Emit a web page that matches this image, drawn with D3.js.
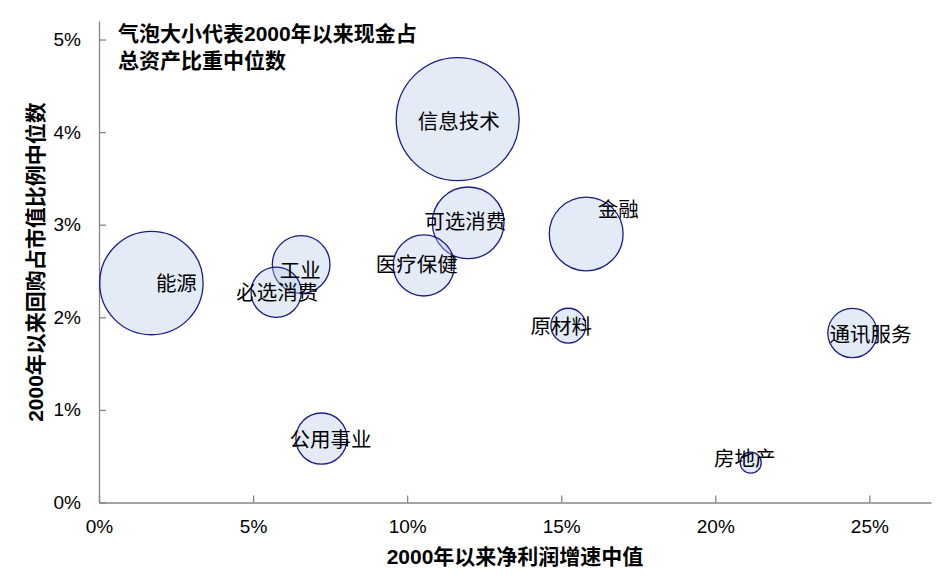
<html>
<head>
<meta charset="utf-8">
<style>
  body { margin: 0; background: #fff; }
  text { font-family: "Liberation Sans", "Noto Sans CJK SC", sans-serif; fill: #000; }
</style>
</head>
<body>
<script src="https://d3js.org/d3.v7.min.js"></script>
<script>
    // 行业
    var sectors = ['能源', '工业', '必选消费', '公用事业', '医疗保健', '可选消费', '信息技术', '金融', '原材料', '房地产', '通讯服务'];
    // 2000年以来净利润增速中值 (%)
    var growth = [1.70, 6.56, 5.75, 7.22, 10.54, 11.98, 11.64, 15.81, 15.23, 21.15, 24.45];
    // 2000年以来回购占市值比例中位数 (%)
    var buyback = [2.37, 2.57, 2.27, 0.69, 2.56, 3.02, 4.14, 2.90, 1.91, 0.43, 1.83];
    // 现金占总资产比重中位数 (%), 气泡大小
    var cashRatio = [10.6, 3.3, 2.5, 2.6, 3.7, 5.1, 15.0, 5.4, 1.2, 0.44, 2.4];
    var xTicks = [0, 5, 10, 15, 20, 25];
    var yTicks = [0, 1, 2, 3, 4, 5];

    // 标签相对气泡中心的偏移
    var labelOffset = [[25, 0], [-1, 6], [1, 0], [9, 1], [-7, -1], [-3, -1], [1, 2], [32, -24], [-7, 1], [-6, -4], [18, 1]];

    var data = sectors.map((s, i) => ({ name: s, x: growth[i], y: buyback[i], size: cashRatio[i], off: labelOffset[i] }));

    var width = 944, height = 585;
    var plotLeft = 99, plotRight = 931, plotTop = 21, plotBottom = 502.5;

    //比例尺
    var x = d3.scaleLinear().domain([0, 27]).range([plotLeft, plotRight]);
    var y = d3.scaleLinear().domain([0, 5.2]).range([plotBottom, plotTop]);
    var r = d3.scaleSqrt().domain([0, d3.max(cashRatio)]).range([0, 61.5]);

    var svg = d3.select('body').append('svg')
        .attr('width', width)
        .attr('height', height);

    //X轴
    var xAxis = svg.append('g')
        .attr('transform', `translate(0,${plotBottom})`)
        .call(d3.axisBottom(x).tickValues(xTicks).tickSizeInner(-7).tickSizeOuter(0).tickFormat(d => d + '%'));
    //Y轴
    var yAxis = svg.append('g')
        .attr('transform', `translate(${plotLeft},0)`)
        .call(d3.axisLeft(y).tickValues(yTicks).tickSizeInner(-7).tickSizeOuter(0).tickFormat(d => d + '%'));

    [xAxis, yAxis].forEach(a => {
        a.select('.domain').attr('stroke', '#868686').attr('stroke-width', 1.3);
        a.selectAll('.tick line').attr('stroke', '#868686').attr('stroke-width', 1.3);
        a.selectAll('.tick text').attr('font-size', 19).attr('fill', '#000');
    });
    xAxis.selectAll('.tick text').attr('y', 17);
    yAxis.selectAll('.tick text').attr('x', -18);

    //气泡
    svg.append('g').selectAll('circle')
        .data(data.slice().sort((a, b) => b.size - a.size))
        .join('circle')
        .attr('cx', d => x(d.x))
        .attr('cy', d => y(d.y))
        .attr('r', d => r(d.size))
        .attr('fill', '#b8ccea')
        .attr('fill-opacity', 0.4)
        .attr('stroke', '#1c1c86')
        .attr('stroke-width', 1.3);

    //标签
    svg.append('g').selectAll('text')
        .data(data)
        .join('text')
        .attr('x', d => x(d.x) + d.off[0])
        .attr('y', d => y(d.y) + d.off[1])
        .attr('text-anchor', 'middle')
        .attr('dominant-baseline', 'central')
        .attr('font-size', 20.5)
        .text(d => d.name);

    //说明
    var note = svg.append('text')
        .attr('x', 118)
        .attr('font-size', 21)
        .attr('font-weight', 'bold')
        .attr('dominant-baseline', 'central');
    note.append('tspan').attr('x', 118).attr('y', 32.5).text('气泡大小代表2000年以来现金占');
    note.append('tspan').attr('x', 118).attr('y', 60).text('总资产比重中位数');

    //轴标题
    svg.append('text')
        .attr('x', 515).attr('y', 556)
        .attr('text-anchor', 'middle')
        .attr('dominant-baseline', 'central')
        .attr('font-size', 21)
        .attr('font-weight', 'bold')
        .text('2000年以来净利润增速中值');

    svg.append('text')
        .attr('transform', 'translate(35,262) rotate(-90)')
        .attr('text-anchor', 'middle')
        .attr('dominant-baseline', 'central')
        .attr('font-size', 21)
        .attr('font-weight', 'bold')
        .text('2000年以来回购占市值比例中位数');
</script>
</body>
</html>
